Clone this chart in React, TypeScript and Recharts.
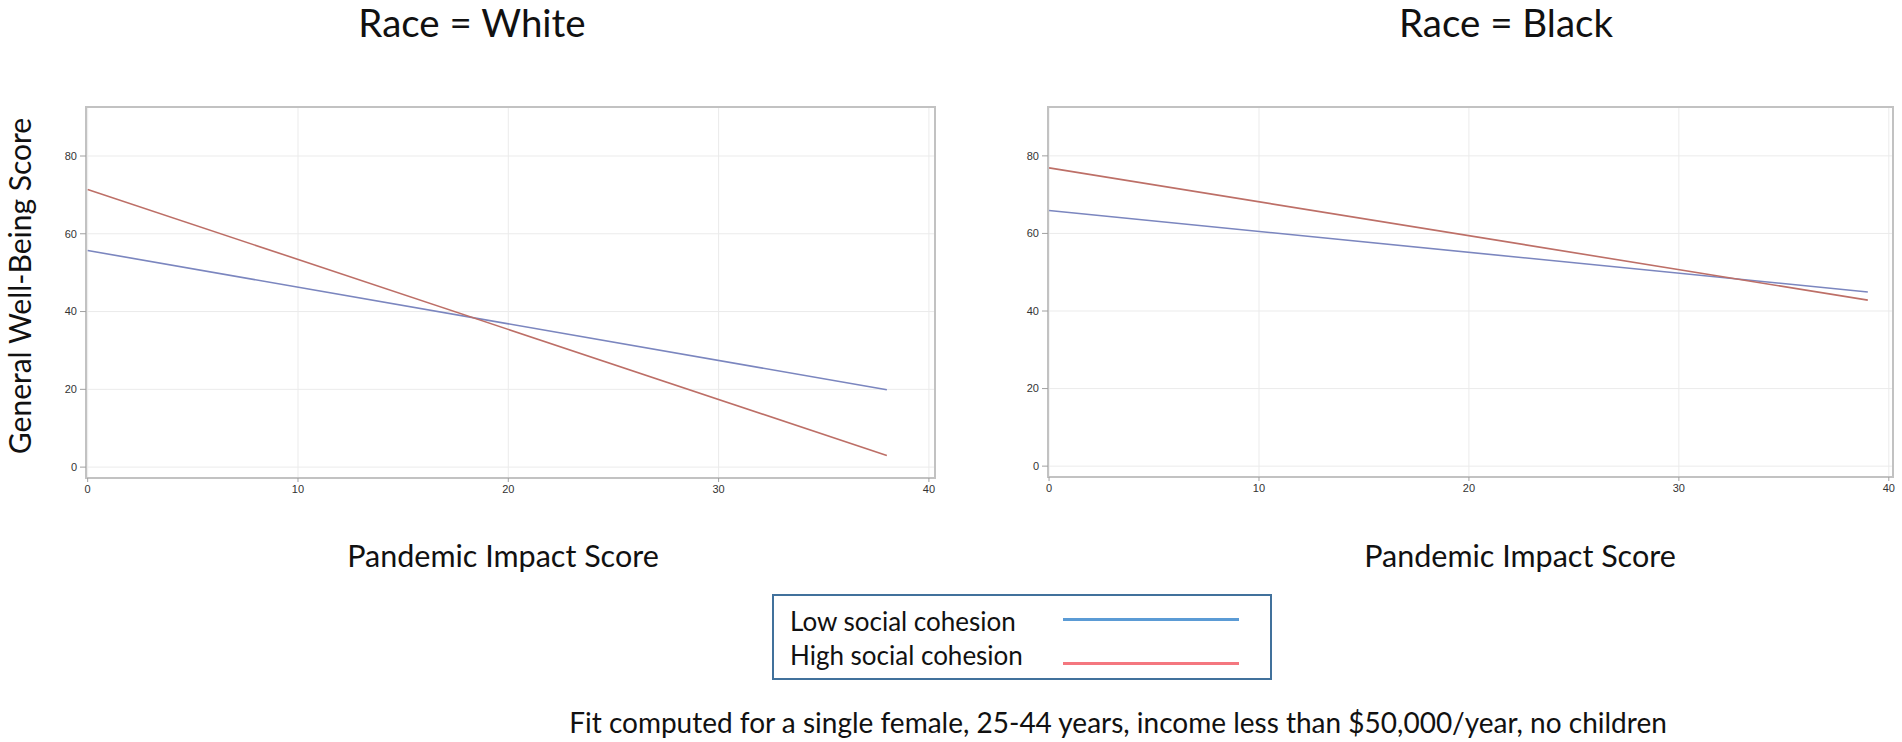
import { CartesianGrid, Line, LineChart, ReferenceArea, XAxis, YAxis } from "recharts";

// Fitted lines: General Well-Being Score vs Pandemic Impact Score (end points of each fit)
const whiteImpact = [0, 38];
const whiteLow = [55.7, 19.9];
const whiteHigh = [71.4, 3.0];

const blackImpact = [0, 39];
const blackLow = [65.9, 44.9];
const blackHigh = [76.9, 42.8];

const xTicks = [0, 10, 20, 30, 40];
const yTicks = [0, 20, 40, 60, 80];

const seriesNames = ["Low social cohesion", "High social cohesion"];
const legendColors = ["#5B9BD5", "#F4777F"];
const plotColors = ["#7B86BF", "#BD6F67"];

const Y_DOMAIN: [number, number] = [-2.8, 92.6];
const FONT = "Lato, 'Open Sans', sans-serif";
const TICK = { fill: "#333", fontSize: 11, fontFamily: "Arial, 'Liberation Sans', sans-serif" };

type Row = { x: number; low: number; high: number };

const toRows = (xs: number[], low: number[], high: number[]): Row[] =>
  xs.map((x, i) => ({ x, low: low[i], high: high[i] }));

function Panel({
  rows,
  left,
  width,
  xDomain,
  margin,
}: {
  rows: Row[];
  left: number;
  width: number;
  xDomain: [number, number];
  margin: { top: number; right: number; bottom: number; left: number };
}) {
  return (
    <div style={{ position: "absolute", left, top: 0 }}>
      <LineChart width={width} height={510} data={rows} margin={margin}>
        <CartesianGrid stroke="#ebebeb" strokeWidth={1} />
        <XAxis
          dataKey="x"
          type="number"
          domain={xDomain}
          allowDataOverflow
          ticks={xTicks}
          tick={TICK}
          tickSize={4}
          tickMargin={3}
          tickLine={{ stroke: "#a0a0a0" }}
          axisLine={false}
          height={30}
        />
        <YAxis
          type="number"
          domain={Y_DOMAIN}
          allowDataOverflow
          ticks={yTicks}
          tick={TICK}
          tickSize={6}
          tickMargin={3}
          tickLine={{ stroke: "#a0a0a0" }}
          axisLine={false}
          width={30}
        />
        <ReferenceArea
          x1={xDomain[0]}
          x2={xDomain[1]}
          y1={Y_DOMAIN[0]}
          y2={Y_DOMAIN[1]}
          fill="none"
          stroke="#c2c2c2"
          strokeWidth={2}
        />
        <Line dataKey="low" stroke={plotColors[0]} strokeWidth={1.6} dot={false} isAnimationActive={false} />
        <Line dataKey="high" stroke={plotColors[1]} strokeWidth={1.6} dot={false} isAnimationActive={false} />
      </LineChart>
    </div>
  );
}

function Text({ x, y, size, children }: { x: number; y: number; size: number; children: React.ReactNode }) {
  return (
    <div
      style={{
        position: "absolute",
        left: x,
        top: y,
        transform: "translate(-50%, -50%)",
        fontFamily: FONT,
        fontSize: size,
        lineHeight: 1,
        whiteSpace: "nowrap",
        color: "#111",
      }}
    >
      {children}
    </div>
  );
}

export default function App() {
  return (
    <div
      style={{
        position: "absolute",
        left: 0,
        top: 0,
        width: 1902,
        height: 742,
        background: "#fff",
        overflow: "hidden",
      }}
    >
      <Text x={472} y={22} size={38.5}>Race = White</Text>
      <Text x={1506} y={22} size={38.5}>Race = Black</Text>

      <Panel
        rows={toRows(whiteImpact, whiteLow, whiteHigh)}
        left={0}
        width={960}
        xDomain={[-0.08, 40.29]}
        margin={{ top: 107, right: 25, bottom: 2, left: 56 }}
      />
      <Panel
        rows={toRows(blackImpact, blackLow, blackHigh)}
        left={960}
        width={942}
        xDomain={[-0.05, 40.2]}
        margin={{ top: 107, right: 9, bottom: 3, left: 58 }}
      />

      <div
        style={{
          position: "absolute",
          left: 19,
          top: 286,
          transform: "translate(-50%, -50%) rotate(-90deg)",
          fontFamily: FONT,
          fontSize: 30,
          lineHeight: 1,
          whiteSpace: "nowrap",
          color: "#111",
        }}
      >
        General Well-Being Score
      </div>

      <Text x={503} y={555} size={30.5}>Pandemic Impact Score</Text>
      <Text x={1520} y={555} size={30.5}>Pandemic Impact Score</Text>

      <div
        style={{
          position: "absolute",
          left: 772,
          top: 594,
          width: 500,
          height: 86,
          boxSizing: "border-box",
          border: "2px solid #41719C",
          fontFamily: FONT,
          fontSize: 26,
          color: "#111",
        }}
      >
        {seriesNames.map((name, i) => (
          <div
            key={name}
            style={{ position: "absolute", left: 16, top: 10 + i * 34, lineHeight: "30px", whiteSpace: "nowrap" }}
          >
            {name}
          </div>
        ))}
        {seriesNames.map((name, i) => (
          <div
            key={name + "-line"}
            style={{
              position: "absolute",
              left: 289,
              top: 22 + i * 44,
              width: 176,
              height: 3,
              background: legendColors[i],
            }}
          />
        ))}
      </div>

      <Text x={1118} y={722} size={28}>
        Fit computed for a single female, 25-44 years, income less than $50,000/year, no children
      </Text>
    </div>
  );
}
